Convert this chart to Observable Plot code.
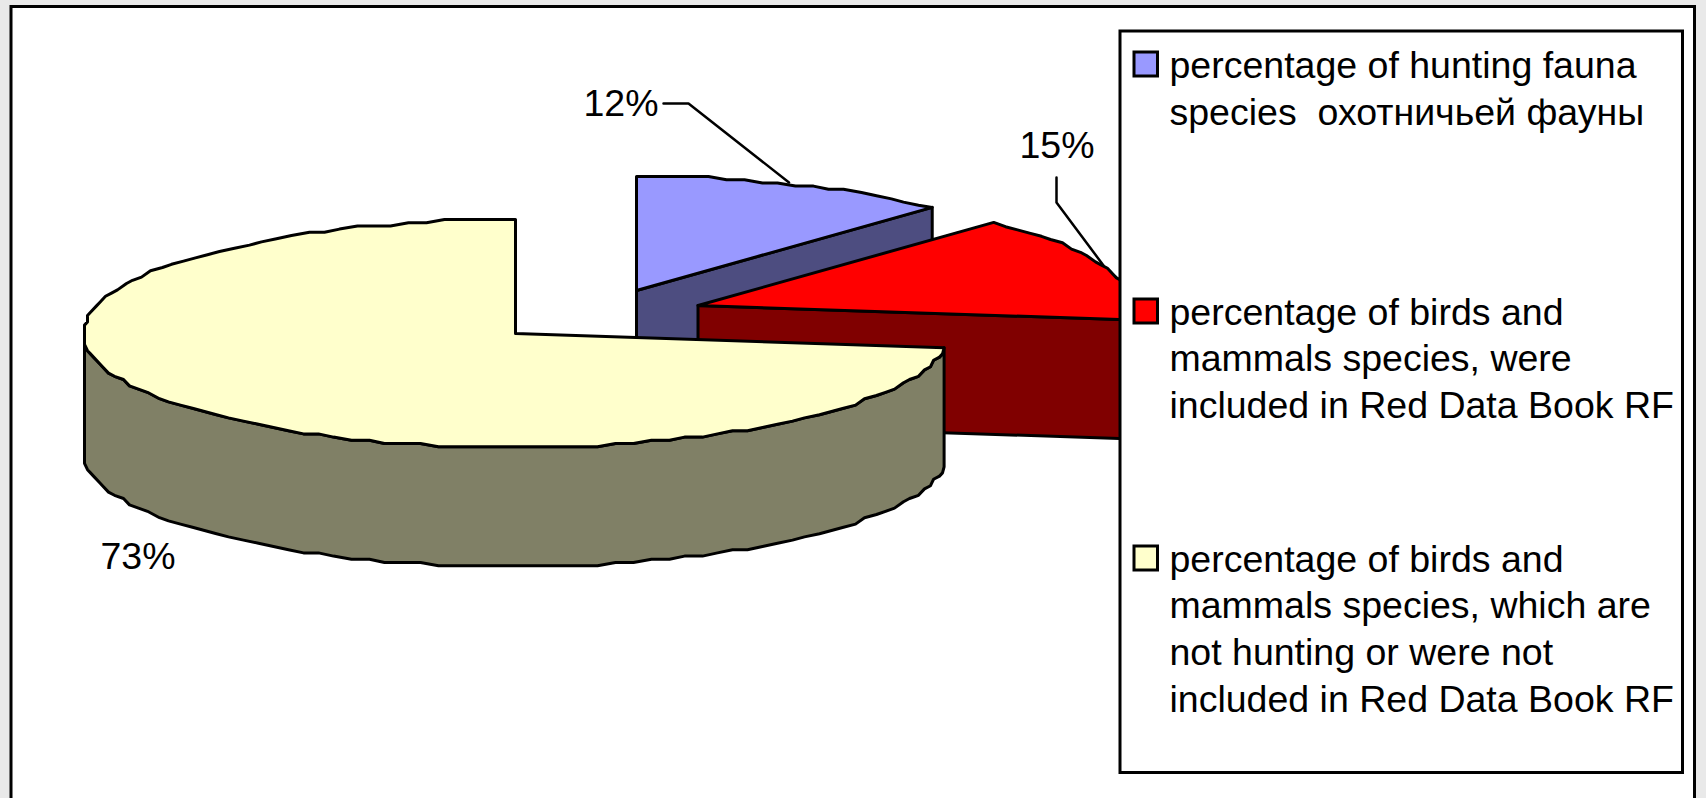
<!DOCTYPE html>
<html>
<head>
<meta charset="utf-8">
<script src="https://cdn.jsdelivr.net/npm/d3@7"></script>
<script src="https://cdn.jsdelivr.net/npm/@observablehq/plot@0.6"></script>
<style>
html,body{margin:0;padding:0;background:#e9e9e9;overflow:hidden}
svg{display:block}
</style>
</head>
<body>
<div id="chart"></div>
<script>
// Data
const categories = ["hunting", "redbook", "other"];
const percents = [12, 15, 73];
const percentLabels = ["12%", "15%", "73%"];
const legendTexts = [
  ["percentage of hunting fauna", "species \u00a0охотничьей фауны"],
  ["percentage of birds and", "mammals species, were", "included in Red Data Book RF"],
  ["percentage of birds and", "mammals species, which are", "not hunting or were not", "included in Red Data Book RF"]
];

// Styles and layout
const topColors = ["#9999ff", "#ff0000", "#ffffcc"];
const wallColors = ["#4d4d80", "#800000", "#808066"];
const centers = [[636, 290], [697.5, 305], [515, 333]];
const rx = 432, ry = 114, depth = 119;
const width = 1706, height = 798;
const ink = "#000";
const labelSize = 37.5;

const rad = d => d * Math.PI / 180;
const at = (c, a) => ({x: c[0] + rx * Math.sin(rad(a)), y: c[1] - ry * Math.cos(rad(a))});
// The source drew its rim as a coarse polyline: snap the rim to a coarse pixel grid.
function rim(c, a0, a1) {
  const n = Math.max(1, Math.round((a1 - a0) / 2.4)), pts = [], top = c[1] - ry;
  for (let i = 0; i <= n; ++i) {
    const a = a0 + (a1 - a0) * i / n;
    const p = at(c, a);
    const exact = i === n || (i === 0 && a0 > 0);
    pts.push(exact ? {...p, a} : {a, x: i === 0 ? p.x : Math.round(p.x / 3) * 3, y: top + Math.round((p.y - top) / 3.2) * 3.2});
  }
  return pts;
}
const down = pts => pts.map(p => ({x: p.x, y: p.y + depth}));
const close = pts => [...pts, pts[0]];

let cum = 0;
const slices = categories.map((k, i) => {
  const a0 = cum * 3.6; cum += percents[i];
  return {k, a0, a1: cum * 3.6, c: centers[i], top: topColors[i], wall: wallColors[i]};
});
const polygon = (pts, fill, w = 3) => Plot.line(close(pts), {x: "x", y: "y", fill, stroke: ink, strokeWidth: w, strokeLinejoin: "round"});
const apex = s => ({x: s.c[0], y: s.c[1]});
const topFace = s => [apex(s), ...rim(s.c, s.a0, s.a1)];
// Cut face running from the apex to the end of the slice
const cutWall = s => { const e = at(s.c, s.a1), a = apex(s); return [a, e, {x: e.x, y: e.y + depth}, {x: a.x, y: a.y + depth}]; };
// Outer face shares the top face's rim points, up to the pie's left-most point
const outerWall = (s, aMax) => { const r = rim(s.c, s.a0, s.a1).filter(p => p.a <= aMax); return [...r, ...down(r).reverse()]; };

const [blue, red, yellow] = slices;

// Legend
const legendX = 1169, swatchX1 = 1134, swatchX2 = 1157.5, swatchH = 24;
const legendBaselines = [[77, 124], [324, 370.5, 417], [571, 617.5, 664.5, 711]];
const legendRows = legendTexts.flatMap((lines, i) => lines.map((t, j) => ({t, y: legendBaselines[i][j]})));
const swatches = legendBaselines.map((b, i) => ({y1: b[0] - 25, y2: b[0] - 25 + swatchH, fill: topColors[i]}));

const labels = [
  {t: percentLabels[0], x: 620.5, y: 115},
  {t: percentLabels[1], x: 1056.5, y: 157},
  {t: percentLabels[2], x: 137.5, y: 568}
];
const leaders = [
  [{x: 663, y: 103}, {x: 688, y: 103}, {x: 788.5, y: 182}],
  [{x: 1056, y: 177}, {x: 1056, y: 202}, {x: 1103, y: 265}]
];

const plot = Plot.plot({
  width, height,
  margin: 0,
  x: {domain: [0, width], range: [0, width], axis: null},
  y: {domain: [0, height], range: [0, height], axis: null},
  style: {background: "transparent"},
  marks: [
    Plot.rect([{x1: 11, x2: 1694.5, y1: 6.5, y2: 830}], {x1: "x1", x2: "x2", y1: "y1", y2: "y2", fill: "#fff", stroke: ink, strokeWidth: 3}),
    // Blue slice
    polygon(cutWall(blue), blue.wall),
    polygon(topFace(blue), blue.top),
    // Red slice
    polygon(cutWall(red), red.wall),
    polygon(topFace(red), red.top),
    // Leader lines
    ...leaders.map(l => Plot.line(l, {x: "x", y: "y", stroke: ink, strokeWidth: 2.5})),
    // Yellow slice
    polygon(outerWall(yellow, 270), yellow.wall),
    polygon(topFace(yellow), yellow.top),
    // Value labels
    Plot.text(labels, {x: "x", y: "y", text: "t", fontSize: labelSize, fontFamily: "Liberation Sans", fill: ink, lineAnchor: "bottom", textAnchor: "middle"}),
    // Legend
    Plot.rect([{x1: 1120, x2: 1682.5, y1: 31, y2: 772.5}], {x1: "x1", x2: "x2", y1: "y1", y2: "y2", fill: "#fff", stroke: ink, strokeWidth: 3}),
    Plot.rect(swatches, {x1: swatchX1, x2: swatchX2, y1: "y1", y2: "y2", fill: "fill", stroke: ink, strokeWidth: 3}),
    Plot.text(legendRows, {x: legendX, y: "y", text: "t", fontSize: labelSize, fontFamily: "Liberation Sans", fill: ink, textAnchor: "start", lineAnchor: "bottom"})
  ]
});
document.getElementById("chart").append(plot);
</script>
</body>
</html>
